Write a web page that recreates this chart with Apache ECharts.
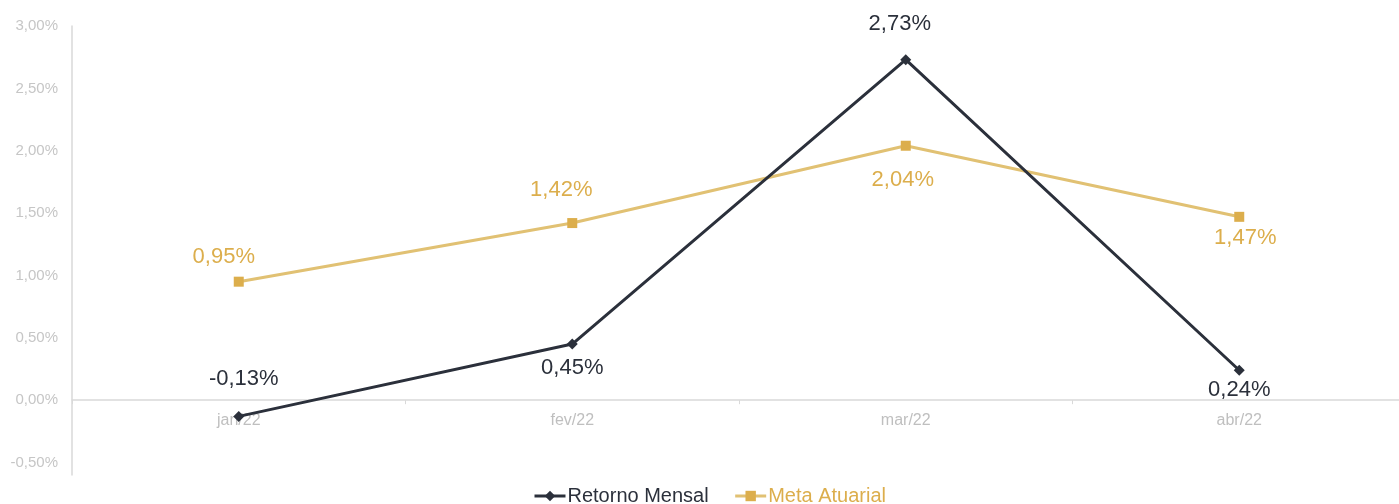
<!DOCTYPE html>
<html>
<head>
<meta charset="utf-8">
<script src="https://cdn.jsdelivr.net/npm/echarts@6/dist/echarts.min.js"></script>
<style>
html,body{margin:0;padding:0;background:#fff;}
#c{width:1399px;height:504px;}
</style>
</head>
<body>
<div id="c"></div>
<script>
const categories = ['jan/22', 'fev/22', 'mar/22', 'abr/22'];
const retornoMensal = [-0.13, 0.45, 2.73, 0.24];
const metaAtuarial = [0.95, 1.42, 2.04, 1.47];
const yTicks = [-0.5, 0, 0.5, 1, 1.5, 2, 2.5, 3];

// label offsets (styling only)
const retornoLabelOffsets = [[5, -37], [0, 24], [-6, -36], [0, 20]];
const metaLabelOffsets = [[-15, -25], [-11, -33], [-3, 34], [6, 21]];

const DARK = '#2b303b';
const GOLD = '#dcae4c';
const GOLD_LINE = '#e1c173';
const FONT = "'Liberation Sans', Arial, sans-serif";

function fmt(v) { return v.toFixed(2).replace('.', ',') + '%'; }

function buildData(values, offsets) {
  return values.map((v, i) => ({
    value: v,
    label: { offset: offsets[i] }
  }));
}

const chart = echarts.init(document.getElementById('c'), null, { renderer: 'canvas' });
chart.setOption({
  animation: false,
  textStyle: { fontFamily: FONT },
  grid: { left: 72, width: 1334, top: 26, bottom: 29, containLabel: false, outerBoundsMode: 'none' },
  legend: {
    top: 481,
    left: 528,
    itemWidth: 31,
    itemHeight: 13,
    itemGap: 25,
    textStyle: { fontSize: 20, fontFamily: FONT, padding: [0, 0, 0, -3] },
    data: [
      { name: 'Retorno Mensal', textStyle: { color: DARK }, itemStyle: { color: DARK }, lineStyle: { color: DARK, width: 3 } },
      { name: 'Meta Atuarial', textStyle: { color: GOLD }, itemStyle: { color: GOLD }, lineStyle: { color: GOLD_LINE, width: 3 } }
    ]
  },
  xAxis: {
    type: 'category',
    data: categories,
    boundaryGap: true,
    axisLine: { show: true, onZero: true, lineStyle: { color: '#d9d9d9', width: 1.5 } },
    axisTick: { show: true, length: 4, lineStyle: { color: '#d9d9d9' } },
    axisLabel: { color: '#bfbfbf', fontSize: 16, margin: -62, fontFamily: FONT },
    splitLine: { show: false }
  },
  yAxis: {
    type: 'value',
    min: -0.6,
    max: 3,
    axisLine: { show: true, lineStyle: { color: '#d9d9d9', width: 1.5 } },
    axisTick: { show: false },
    splitLine: { show: false },
    axisLabel: {
      color: '#c6c6c6',
      fontSize: 15,
      margin: 14,
      fontFamily: FONT,
      customValues: yTicks,
      formatter: v => fmt(v)
    }
  },
  series: [
    {
      name: 'Retorno Mensal',
      type: 'line',
      data: buildData(retornoMensal, retornoLabelOffsets),
      symbol: 'diamond',
      symbolSize: 11,
      itemStyle: { color: DARK },
      lineStyle: { color: DARK, width: 3 },
      label: {
        show: true,
        position: 'inside',
        color: DARK,
        fontSize: 22,
        fontFamily: FONT,
        formatter: p => fmt(p.value)
      },
      z: 3
    },
    {
      name: 'Meta Atuarial',
      type: 'line',
      data: buildData(metaAtuarial, metaLabelOffsets),
      symbol: 'rect',
      symbolSize: 10,
      itemStyle: { color: GOLD },
      lineStyle: { color: GOLD_LINE, width: 3 },
      label: {
        show: true,
        position: 'inside',
        color: GOLD,
        fontSize: 22,
        fontFamily: FONT,
        formatter: p => fmt(p.value)
      },
      z: 2
    }
  ]
});
</script>
</body>
</html>
